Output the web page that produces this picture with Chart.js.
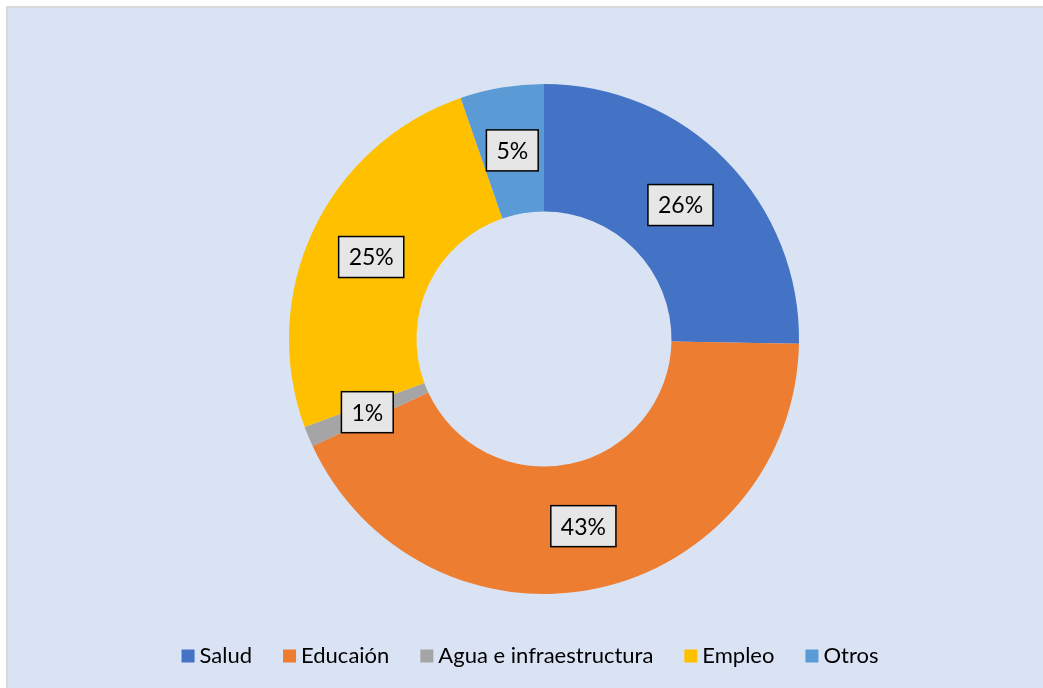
<!DOCTYPE html>
<html>
<head>
<meta charset="utf-8">
<script src="https://cdn.jsdelivr.net/npm/chart.js@4"></script>
<style>
  html, body { margin: 0; padding: 0; background: #fff; }
  #frame {
    position: absolute; left: 6px; top: 6px; width: 1045px; height: 690px;
    background: #dae3f3; border: 2px solid #d9d9d9; box-sizing: border-box;
  }
  #wrap { position: absolute; left: 0; top: 0; width: 1043px; height: 688px; }
</style>
</head>
<body>
<div id="frame"></div>
<div id="wrap"><canvas id="grafico"></canvas></div>
<script>
const categorias = ['Salud', 'Educaión', 'Agua e infraestructura', 'Empleo', 'Otros'];
const valores = [25.3, 42.8, 1.3, 25.3, 5.3];
const etiquetas = ['26%', '43%', '1%', '25%', '5%'];
const colores = ['#4472c4', '#ed7d31', '#a5a5a5', '#ffc000', '#5b9bd5'];

const FUENTE = 'Lato, "Open Sans", sans-serif';

// etiquetas con caja en el centro de cada segmento
const etiquetasPlugin = {
  id: 'etiquetasCaja',
  afterDatasetsDraw(chart) {
    const ctx = chart.ctx;
    const meta = chart.getDatasetMeta(0);
    ctx.save();
    ctx.font = '23px ' + FUENTE;
    ctx.textAlign = 'center';
    ctx.textBaseline = 'middle';
    meta.data.forEach((arc, i) => {
      const p = arc.tooltipPosition();
      const w = ctx.measureText(etiquetas[i]).width + 20;
      const h = 41;
      ctx.fillStyle = '#e7e6e6';
      ctx.fillRect(p.x - w / 2, p.y - h / 2, w, h);
      ctx.lineWidth = 1.5;
      ctx.strokeStyle = '#000';
      ctx.strokeRect(p.x - w / 2, p.y - h / 2, w, h);
      ctx.fillStyle = '#000';
      ctx.fillText(etiquetas[i], p.x, p.y + 1);
    });
    ctx.restore();
  }
};

// leyenda inferior dibujada a mano
const leyendaPlugin = {
  id: 'leyendaAbajo',
  afterDraw(chart) {
    const ctx = chart.ctx;
    ctx.save();
    ctx.font = '22px ' + FUENTE;
    ctx.textBaseline = 'middle';
    const caja = 13, hueco = 5, sep = 31;
    let total = 0;
    const anchos = categorias.map(c => ctx.measureText(c).width);
    anchos.forEach(a => total += caja + hueco + a);
    total += sep * (categorias.length - 1);
    let x = 530 - total / 2;
    const y = 656;
    categorias.forEach((c, i) => {
      ctx.fillStyle = colores[i];
      ctx.fillRect(x, y - caja / 2, caja, caja);
      ctx.fillStyle = '#000';
      ctx.fillText(c, x + caja + hueco, y);
      x += caja + hueco + anchos[i] + sep;
    });
    ctx.restore();
  }
};

new Chart(document.getElementById('grafico'), {
  type: 'doughnut',
  data: {
    labels: categorias,
    datasets: [{
      data: valores,
      backgroundColor: colores,
      borderWidth: 0
    }]
  },
  options: {
    responsive: true,
    maintainAspectRatio: false,
    animation: false,
    cutout: '50%',
    layout: { padding: { top: 84, bottom: 94, left: 45, right: 0 } },
    plugins: {
      legend: { display: false },
      tooltip: { enabled: false }
    }
  },
  plugins: [etiquetasPlugin, leyendaPlugin]
});
</script>
</body>
</html>
